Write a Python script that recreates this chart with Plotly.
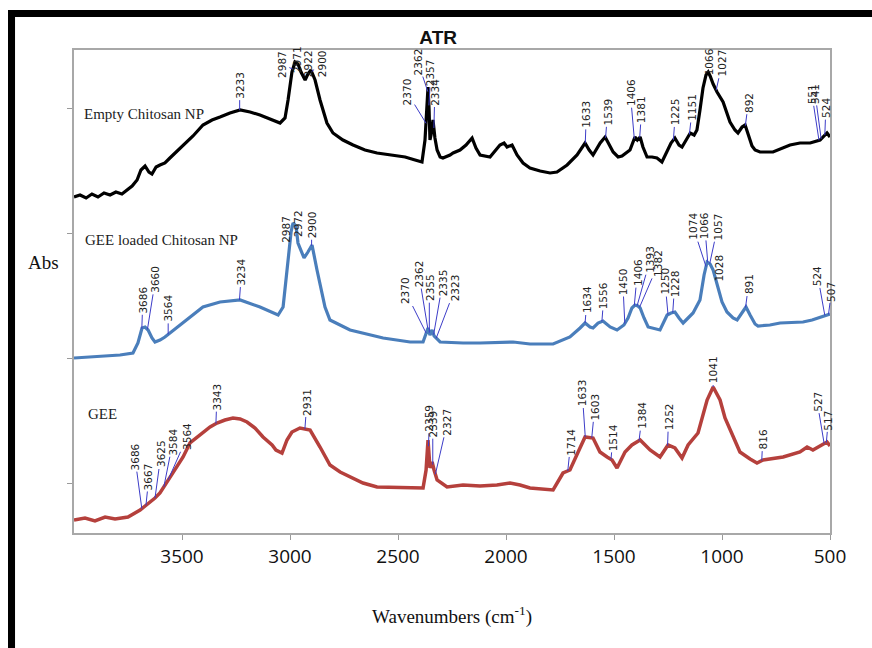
import numpy as np
import plotly.graph_objects as go

# ---------------- data (wavenumber cm-1, absorbance a.u.) ----------------
black_wn = [4000, 3972, 3944, 3917, 3889, 3861, 3833, 3806, 3778, 3755,
            3731, 3708, 3690, 3671, 3653, 3639, 3620, 3602, 3579, 3556,
            3509, 3449, 3403, 3361, 3324, 3278, 3231, 3185, 3139, 3093,
            3046, 3023, 3009, 2991, 2977, 2963, 2949, 2930, 2917, 2903,
            2884, 2861, 2829, 2801, 2755, 2708, 2653, 2597, 2523, 2467,
            2421, 2389, 2375, 2366, 2361, 2356, 2352, 2347, 2338, 2329,
            2319, 2305, 2292, 2259, 2245, 2213, 2185, 2157, 2139, 2120,
            2074, 2028, 2009, 1995, 1972, 1949, 1921, 1889, 1842, 1796,
            1764, 1717, 1671, 1634, 1615, 1597, 1564, 1541, 1522, 1504,
            1481, 1463, 1426, 1403, 1392, 1379, 1366, 1347, 1324, 1301,
            1278, 1254, 1236, 1218, 1199, 1185, 1166, 1147, 1129, 1116,
            1102, 1088, 1074, 1064, 1055, 1041, 1023, 995, 963, 940,
            926, 907, 893, 879, 861, 847, 824, 764, 685, 639,
            592, 546, 528, 514, 500]
black_abs = [0.572, 0.576, 0.570, 0.578, 0.572, 0.580, 0.576, 0.582, 0.578, 0.586,
             0.594, 0.606, 0.626, 0.634, 0.622, 0.618, 0.632, 0.636, 0.640, 0.650,
             0.670, 0.694, 0.716, 0.726, 0.732, 0.740, 0.746, 0.742, 0.736, 0.728,
             0.720, 0.730, 0.766, 0.822, 0.842, 0.838, 0.822, 0.806, 0.818, 0.826,
             0.806, 0.766, 0.720, 0.700, 0.686, 0.676, 0.666, 0.660, 0.656, 0.652,
             0.646, 0.642, 0.686, 0.746, 0.792, 0.746, 0.686, 0.696, 0.726, 0.690,
             0.666, 0.652, 0.650, 0.656, 0.660, 0.666, 0.676, 0.690, 0.670, 0.656,
             0.652, 0.676, 0.680, 0.672, 0.676, 0.656, 0.640, 0.630, 0.624, 0.620,
             0.622, 0.636, 0.656, 0.680, 0.666, 0.656, 0.680, 0.692, 0.676, 0.662,
             0.652, 0.654, 0.666, 0.692, 0.686, 0.692, 0.672, 0.652, 0.652, 0.650,
             0.642, 0.666, 0.680, 0.690, 0.676, 0.672, 0.686, 0.700, 0.696, 0.706,
             0.746, 0.790, 0.816, 0.822, 0.814, 0.798, 0.782, 0.762, 0.722, 0.706,
             0.700, 0.712, 0.716, 0.696, 0.674, 0.666, 0.662, 0.662, 0.676, 0.680,
             0.680, 0.686, 0.694, 0.700, 0.692]

blue_wn = [4000, 3926, 3856, 3787, 3727, 3704, 3685, 3671, 3657, 3639,
           3625, 3602, 3579, 3556, 3477, 3403, 3324, 3231, 3139, 3055,
           3032, 3009, 2995, 2986, 2972, 2963, 2935, 2917, 2898, 2875,
           2838, 2815, 2722, 2569, 2444, 2384, 2370, 2361, 2352, 2342,
           2333, 2319, 2305, 2199, 2120, 1967, 1889, 1782, 1704, 1657,
           1634, 1611, 1597, 1574, 1551, 1518, 1486, 1454, 1435, 1417,
           1403, 1389, 1379, 1361, 1342, 1287, 1268, 1254, 1236, 1218,
           1199, 1180, 1157, 1134, 1102, 1083, 1069, 1055, 1041, 1018,
           1000, 977, 949, 930, 907, 889, 870, 847, 833, 778,
           731, 625, 583, 546, 518, 500]
blue_abs = [0.250, 0.252, 0.254, 0.256, 0.260, 0.280, 0.310, 0.312, 0.306, 0.290,
            0.282, 0.286, 0.292, 0.300, 0.326, 0.352, 0.362, 0.366, 0.352, 0.336,
            0.352, 0.452, 0.502, 0.520, 0.514, 0.480, 0.450, 0.462, 0.476, 0.426,
            0.352, 0.326, 0.306, 0.290, 0.282, 0.282, 0.300, 0.310, 0.296, 0.306,
            0.294, 0.288, 0.282, 0.280, 0.280, 0.282, 0.278, 0.278, 0.292, 0.310,
            0.320, 0.312, 0.310, 0.320, 0.324, 0.312, 0.306, 0.316, 0.330, 0.350,
            0.356, 0.354, 0.350, 0.330, 0.312, 0.306, 0.322, 0.336, 0.340, 0.342,
            0.330, 0.320, 0.330, 0.340, 0.366, 0.416, 0.442, 0.438, 0.426, 0.392,
            0.362, 0.342, 0.330, 0.326, 0.342, 0.352, 0.336, 0.318, 0.314, 0.316,
            0.320, 0.322, 0.326, 0.332, 0.336, 0.338]

red_wn = [4000, 3949, 3903, 3856, 3810, 3750, 3694, 3671, 3648, 3625,
          3602, 3579, 3556, 3495, 3463, 3417, 3370, 3338, 3301, 3264,
          3231, 3199, 3162, 3125, 3083, 3065, 3037, 3014, 2991, 2954,
          2907, 2861, 2815, 2768, 2722, 2662, 2597, 2384, 2370, 2361,
          2352, 2342, 2333, 2319, 2273, 2199, 2120, 2042, 1981, 1935,
          1889, 1782, 1736, 1704, 1666, 1634, 1597, 1565, 1532, 1509,
          1486, 1449, 1417, 1379, 1333, 1287, 1250, 1218, 1185, 1157,
          1111, 1088, 1069, 1041, 1027, 1009, 986, 963, 917, 870,
          838, 810, 717, 639, 606, 579, 546, 514, 500]
red_abs = [-0.074, -0.070, -0.076, -0.068, -0.072, -0.068, -0.054, -0.046, -0.040, -0.030,
           -0.020, -0.004, 0.012, 0.052, 0.080, 0.096, 0.112, 0.120, 0.126, 0.130,
           0.128, 0.122, 0.110, 0.092, 0.076, 0.066, 0.060, 0.086, 0.102, 0.110,
           0.106, 0.072, 0.036, 0.022, 0.012, 0.000, -0.008, -0.010, 0.026, 0.086,
           0.030, 0.042, 0.026, 0.006, -0.008, -0.004, -0.006, -0.004, 0.000, -0.004,
           -0.010, -0.014, 0.020, 0.026, 0.062, 0.092, 0.090, 0.062, 0.052, 0.046,
           0.030, 0.062, 0.076, 0.086, 0.066, 0.052, 0.076, 0.070, 0.050, 0.076,
           0.100, 0.136, 0.166, 0.192, 0.182, 0.166, 0.130, 0.106, 0.062, 0.048,
           0.040, 0.046, 0.052, 0.062, 0.072, 0.066, 0.074, 0.082, 0.074]

# peak labels (wavenumbers) for each spectrum
black_peaks = [3233, 2987, 2971, 2922, 2900, 2370, 2362, 2357, 2334, 1633,
               1539, 1406, 1381, 1225, 1151, 1066, 1027, 892, 551, 541, 524]
blue_peaks = [3686, 3660, 3564, 3234, 2987, 2972, 2900, 2370, 2362, 2355,
              2335, 2323, 1634, 1556, 1450, 1406, 1393, 1382, 1250, 1228,
              1074, 1066, 1057, 1028, 891, 524, 507]
red_peaks = [3686, 3667, 3625, 3584, 3564, 3343, 2931, 2359, 2339, 2327,
             1714, 1633, 1603, 1514, 1384, 1252, 1041, 816, 527, 517]

series_names = ["Empty Chitosan NP", "GEE loaded Chitosan NP", "GEE"]
x_ticks = [3500, 3000, 2500, 2000, 1500, 1000, 500]

# ---------------- label placement (pixel offsets text-centre from peak) ----------------
black_dx = [0, -11, 1, 1, 10, -19, -10, 2, 1, 1, 2, -4, 2, 2, 3, 1, 6, 3, -7, -6, 1]
black_dy = [-25, -5, -3, -13, -8, -31, -30, -33, -36, -29, -26, -46, -28, -28, -27, -11, -27, -23, -46, -45, -27]
blue_dx = [1, 8, 0, 2, -7, 2, 0, -21, -9, 0, 9, 19, 2, 2, -2, 3, 13, 19, -3, 2, -13, -3, 8, 3, 3, -7, 3]
blue_dy = [-29, -50, -26, -28, 5, -2, -21, -42, -55, -45, -52, -50, -23, -26, -42, -33, -46, -44, -33, -29, -40, -37, -37, -12, -23, -39, -23]
red_dx = [-7, 3, 6, 9, 19, 1, 2, 1, 0, 12, 3, -3, 3, 2, 3, 1, 0, 1, -7, 2]
red_dy = [-52, -29, -44, -45, -43, -27, -27, -28, -41, -52, -29, -44, -31, -22, -25, -29, -17, -21, -42, -22]

BLACK = "#000000"
BLUE = "#4a7ebb"
RED = "#b5403c"
LEADER = "#3c3cc8"

fig = go.Figure()
for wn, ab, col, w in [(black_wn, black_abs, BLACK, 3.2),
                       (blue_wn, blue_abs, BLUE, 3.2),
                       (red_wn, red_abs, RED, 3.5)]:
    fig.add_trace(go.Scatter(x=wn, y=ab, mode="lines",
                             line=dict(color=col, width=w),
                             hoverinfo="skip", showlegend=False))

annotations = []


def peak_labels(wn, ab, peaks, dxs, dys):
    xs = np.array(wn[::-1], dtype=float)
    ys = np.array(ab[::-1], dtype=float)
    for p, dx, dy in zip(peaks, dxs, dys):
        yv = float(np.interp(p, xs, ys))
        annotations.append(dict(
            x=p, y=yv, xref="x", yref="y", text=str(p), textangle=-90,
            showarrow=True, arrowhead=0, arrowwidth=1, arrowcolor=LEADER,
            ax=dx, ay=dy, standoff=0,
            font=dict(family="DejaVu Sans", size=10.5, color="#222222")))


peak_labels(black_wn, black_abs, black_peaks, black_dx, black_dy)
peak_labels(blue_wn, blue_abs, blue_peaks, blue_dx, blue_dy)
peak_labels(red_wn, red_abs, red_peaks, red_dx, red_dy)

# series names
name_pos = [(3963, 0.738), (3958, 0.486), (3944, 0.138)]
for name, (xp, yp) in zip(series_names, name_pos):
    annotations.append(dict(x=xp, y=yp, xref="x", yref="y", text=name,
                            showarrow=False, xanchor="left", yanchor="middle",
                            font=dict(family="Liberation Serif", size=15, color="#222222")))

# y label
annotations.append(dict(x=-0.040, y=0.561, xref="paper", yref="paper", text="Abs",
                        showarrow=False, xanchor="center", yanchor="middle",
                        font=dict(family="Liberation Serif", size=19, color="#111111")))

fig.update_layout(
    width=872, height=648,
    margin=dict(l=74, r=42, t=50, b=115),
    paper_bgcolor="white", plot_bgcolor="white",
    title=dict(text="<b>ATR</b>", x=0.5025, xanchor="center", y=0.943, yanchor="middle",
               font=dict(family="Liberation Sans", size=19, color="#111111")),
    xaxis=dict(range=[4000, 500], tickvals=x_ticks, ticktext=[str(t) for t in x_ticks],
               ticks="outside", ticklen=5, tickcolor="#9a9a9a", tickwidth=1,
               showline=True, linecolor="#a8a8a8", linewidth=2, mirror=True,
               showgrid=False, zeroline=False,
               tickfont=dict(family="Open Sans", size=19, color="#111111"),
               title=dict(text="Wavenumbers (cm<sup>-1</sup>)", standoff=42,
                          font=dict(family="Liberation Serif", size=19, color="#111111"))),
    yaxis=dict(range=[-0.1, 0.866], tickvals=[0, 0.25, 0.5, 0.75], showticklabels=False,
               ticks="outside", ticklen=5, tickcolor="#9a9a9a", tickwidth=1,
               showline=True, linecolor="#a8a8a8", linewidth=2, mirror=True,
               showgrid=False, zeroline=False),
    annotations=annotations,
    shapes=[
        dict(type="rect", xref="paper", yref="paper", x0=-0.0873, x1=1.07,
             y0=1.0683, y1=1.0828, fillcolor="black", line=dict(width=0)),
        dict(type="rect", xref="paper", yref="paper", x0=-0.0873, x1=-0.0780,
             y0=-0.25, y1=1.0828, fillcolor="black", line=dict(width=0)),
    ],
)

fig.write_html("out.html")
